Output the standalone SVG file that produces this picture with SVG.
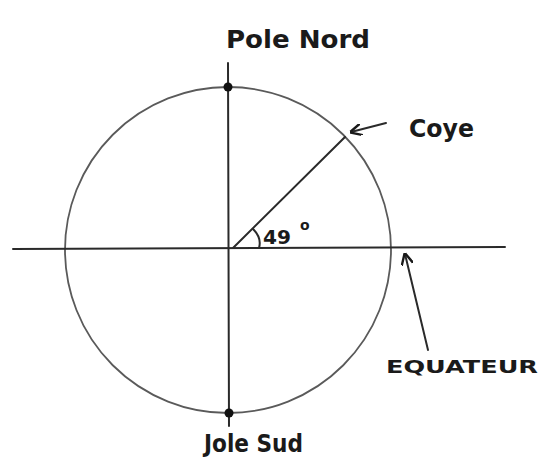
<svg xmlns="http://www.w3.org/2000/svg" width="538" height="475" viewBox="0 0 538 475">
<style>
.ln{stroke:#2a2a2a;stroke-width:2;fill:none;stroke-linecap:round}
.t{font-family:"Comic Sans MS","DejaVu Sans",sans-serif;fill:#1a1a1a;font-weight:bold}
</style>
<defs>
<marker id="ah" viewBox="0 0 10 10" refX="9" refY="5" markerWidth="6" markerHeight="6" orient="auto-start-reverse">
<path d="M0,0 L10,5 L0,10" fill="none" stroke="#1a1a1a" stroke-width="2"/>
</marker>
</defs>
<rect width="538" height="475" fill="#fff"/>
<g id="globe">
<circle cx="228" cy="250" r="163" fill="none" stroke="#5a5a5a" stroke-width="1.8"/>
</g>
<g id="connectors">
<line class="ln" x1="228" y1="63" x2="229" y2="426"/>
<line class="ln" x1="13" y1="249" x2="505" y2="247" stroke="#2e2e3a"/>
<line class="ln" x1="233" y1="248" x2="345" y2="137"/>
<path class="ln" d="M253,229 Q262,238 259,248"/>
<line class="ln" x1="386" y1="123" x2="351" y2="132" marker-end="url(#ah)"/>
<line class="ln" x1="428" y1="350" x2="405" y2="254" marker-end="url(#ah)"/>
</g>
<g id="poles">
<circle cx="228" cy="87" r="4.5" fill="#111"/>
<circle cx="229" cy="413" r="4.5" fill="#111"/>
</g>
<g id="labels">
<text class="t" x="226" y="48" font-size="24" textLength="144" lengthAdjust="spacingAndGlyphs">Pole Nord</text>
<text class="t" x="409" y="137" font-size="24" textLength="65" lengthAdjust="spacingAndGlyphs">Coye</text>
<text class="t" x="204" y="452" font-size="24" textLength="99" lengthAdjust="spacingAndGlyphs">Jole Sud</text>
<text class="t" x="386" y="373" font-size="17" textLength="152" lengthAdjust="spacingAndGlyphs">EQUATEUR</text>
<text class="t" x="263" y="244" font-size="20" textLength="28" lengthAdjust="spacingAndGlyphs">49</text>
<text class="t" x="300" y="230" font-size="14">o</text>
</g>
</svg>
